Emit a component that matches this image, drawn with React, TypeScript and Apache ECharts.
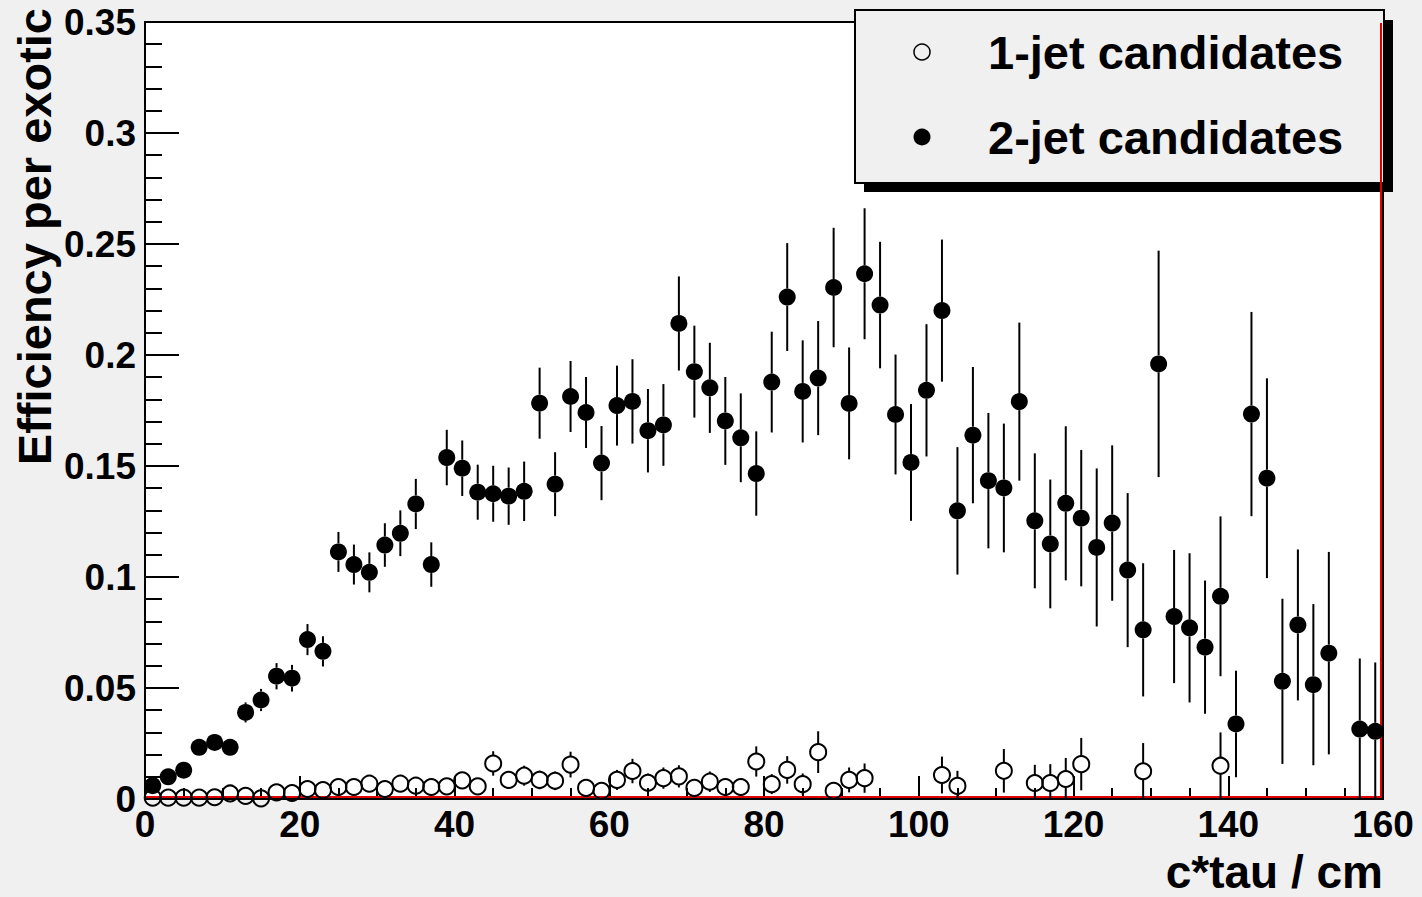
import React, { useEffect, useRef } from "react";
import * as echarts from "echarts";

// c*tau bin centres (cm)
const ctau = [
  1, 3, 5, 7, 9, 11, 13, 15, 17, 19, 21, 23, 25, 27, 29, 31, 33, 35, 37, 39,
  41, 43, 45, 47, 49, 51, 53, 55, 57, 59, 61, 63, 65, 67, 69, 71, 73, 75, 77, 79,
  81, 83, 85, 87, 89, 91, 93, 95, 97, 99, 101, 103, 105, 107, 109, 111, 113, 115, 117, 119,
  121, 123, 125, 127, 129, 131, 133, 135, 137, 139, 141, 143, 145, 147, 149, 151, 153, 155, 157, 159,
];

// 2-jet candidates efficiency and error
const twoJetEff = [
  0.006, 0.010, 0.013, 0.0233, 0.0255, 0.0233, 0.039, 0.0446, 0.0553, 0.0544,
  0.0718, 0.0665, 0.1113, 0.1056, 0.1021, 0.1144, 0.1197, 0.1329, 0.1056, 0.1538,
  0.149, 0.1382, 0.1375, 0.1364, 0.1386, 0.1783, 0.1418, 0.1813, 0.1741, 0.1513,
  0.1772, 0.1791, 0.1659, 0.1685, 0.2142, 0.1925, 0.1852, 0.1703, 0.1627, 0.1466,
  0.1878, 0.2261, 0.1836, 0.1896, 0.2304, 0.1782, 0.2366, 0.2225, 0.1732, 0.1516,
  0.1841, 0.22, 0.1298, 0.1639, 0.1434, 0.1401, 0.179, 0.1253, 0.1149, 0.1332,
  0.1265, 0.1133, 0.1243, 0.1031, 0.0762, 0.196, 0.0822, 0.0771, 0.0684, 0.0913,
  0.0338, 0.1734, 0.1445, 0.053, 0.0784, 0.0515, 0.0657, null, 0.0315, 0.0305,
];
const twoJetErr = [
  0.002, 0.0025, 0.003, 0.0035, 0.0037, 0.0037, 0.0045, 0.005, 0.0059, 0.006,
  0.007, 0.0068, 0.009, 0.009, 0.009, 0.0098, 0.0103, 0.0113, 0.01, 0.0125,
  0.0125, 0.0124, 0.0126, 0.0129, 0.0134, 0.016, 0.0144, 0.016, 0.016, 0.0167,
  0.018, 0.019, 0.0188, 0.0184, 0.0212, 0.0207, 0.0203, 0.0198, 0.02, 0.019,
  0.0227, 0.0243, 0.023, 0.0257, 0.0269, 0.0252, 0.0295, 0.0285, 0.027, 0.0263,
  0.0298, 0.032, 0.0287, 0.0307, 0.0305, 0.029, 0.0356, 0.0304, 0.029, 0.0347,
  0.0307, 0.0356, 0.035, 0.0347, 0.030, 0.051, 0.030, 0.0336, 0.030, 0.036,
  0.024, 0.046, 0.045, 0.0372, 0.034, 0.0363, 0.0456, null, 0.0318, 0.031,
];

// 1-jet candidates efficiency and error
const oneJetEff = [
  0.0006, 0.0006, 0.0006, 0.0006, 0.0008, 0.0025, 0.0014, 0.0003, 0.003, 0.0027,
  0.0045, 0.004, 0.0054, 0.0054, 0.0069, 0.0045, 0.0069, 0.006, 0.0054, 0.0057,
  0.0084, 0.0057, 0.016, 0.0086, 0.0105, 0.0086, 0.0082, 0.0155, 0.005, 0.0037,
  0.0086, 0.0126, 0.0073, 0.0094, 0.0102, 0.005, 0.0078, 0.0054, 0.0054, 0.0169,
  0.0067, 0.0131, 0.0067, 0.0211, 0.0037, 0.0086, 0.0094, null, null, null,
  null, 0.0108, 0.0059, null, null, 0.0127, null, 0.0072, 0.0072, 0.009,
  0.0157, null, null, null, 0.0125, null, null, null, null, 0.015,
  null, null, null, null, null, null, null, null, null, null,
];
const oneJetErr = [
  0.001, 0.001, 0.001, 0.001, 0.0012, 0.0015, 0.0013, 0.0006, 0.002, 0.002,
  0.0025, 0.0024, 0.0028, 0.0028, 0.0032, 0.0028, 0.0033, 0.0032, 0.003, 0.0032,
  0.0038, 0.0033, 0.0055, 0.004, 0.0045, 0.0042, 0.0042, 0.0058, 0.0035, 0.003,
  0.0045, 0.0055, 0.0042, 0.0048, 0.005, 0.0038, 0.0046, 0.004, 0.004, 0.0068,
  0.0045, 0.0062, 0.0048, 0.0094, 0.0035, 0.0056, 0.0066, null, null, null,
  null, 0.0083, 0.0068, null, null, 0.0098, null, 0.0082, 0.0085, 0.0095,
  0.0118, null, null, null, 0.0127, null, null, null, null, 0.015,
  null, null, null, null, null, null, null, null, null, null,
];

const xTickLabels = ["0", "20", "40", "60", "80", "100", "120", "140", "160"];
const yTickLabels = ["0", "0.05", "0.1", "0.15", "0.2", "0.25", "0.3", "0.35"];

const X_MIN = 0;
const X_MAX = 160;
const Y_MIN = 0;
const Y_MAX = 0.35;

const FONT = '"Liberation Sans", Arial, Helvetica, sans-serif';

function rows(eff: (number | null)[], err: (number | null)[]) {
  const out: number[][] = [];
  for (let i = 0; i < ctau.length; i++) {
    const v = eff[i];
    if (v === null || v === undefined) continue;
    out.push([ctau[i], v, (err[i] as number) || 0]);
  }
  return out;
}

function errorBars(radius: number) {
  return (params: any, api: any) => {
    const x = api.value(0);
    const v = api.value(1);
    const e = api.value(2);
    const c = api.coord([x, v]);
    const top = api.coord([x, v + e]);
    const bot = api.coord([x, Math.max(0, v - e)]);
    const children: any[] = [];
    const style = { stroke: "#000", lineWidth: 2 };
    if (c[1] - top[1] > radius) {
      children.push({
        type: "line",
        shape: { x1: c[0], y1: top[1], x2: c[0], y2: c[1] - radius },
        style,
      });
    }
    if (bot[1] - c[1] > radius) {
      children.push({
        type: "line",
        shape: { x1: c[0], y1: c[1] + radius, x2: c[0], y2: bot[1] },
        style,
      });
    }
    return { type: "group", children };
  };
}

export default function App() {
  const ref = useRef<HTMLDivElement>(null);

  useEffect(() => {
    document.body.style.margin = "0";
    const chart = echarts.init(ref.current!, null, { renderer: "svg" });
    const two = rows(twoJetEff, twoJetErr);
    const one = rows(oneJetEff, oneJetErr);

    chart.setOption({
      animation: false,
      backgroundColor: "#f0f0f0",
      grid: {
        left: 145,
        top: 22,
        width: 1238,
        height: 777,
        show: true,
        backgroundColor: "#ffffff",
        borderColor: "#000",
        borderWidth: 2,
      },
      xAxis: {
        type: "value",
        min: X_MIN,
        max: X_MAX,
        interval: 20,
        axisLine: { show: true, lineStyle: { color: "#000", width: 2 } },
        axisTick: { show: true, inside: true, length: 23, lineStyle: { color: "#000", width: 2 } },
        minorTick: { show: true, splitNumber: 4, length: 11, lineStyle: { color: "#000", width: 2 } },
        splitLine: { show: false },
        minorSplitLine: { show: false },
        axisLabel: {
          margin: 7,
          color: "#000",
          fontFamily: FONT,
          fontWeight: "bold",
          fontSize: 37,
          formatter: (v: number) => xTickLabels[Math.round(v / 20)] ?? String(v),
        },
      },
      yAxis: {
        type: "value",
        min: Y_MIN,
        max: Y_MAX,
        interval: 0.05,
        axisLine: { show: true, lineStyle: { color: "#000", width: 2 } },
        axisTick: { show: true, inside: true, length: 34, lineStyle: { color: "#000", width: 2 } },
        minorTick: { show: true, splitNumber: 5, length: 17, lineStyle: { color: "#000", width: 2 } },
        splitLine: { show: false },
        minorSplitLine: { show: false },
        axisLabel: {
          margin: 9,
          color: "#000",
          fontFamily: FONT,
          fontWeight: "bold",
          fontSize: 37,
          formatter: (v: number) => yTickLabels[Math.round(v / 0.05)] ?? String(v),
        },
      },
      series: [
        {
          type: "custom",
          name: "frame",
          silent: true,
          clip: false,
          z: 1,
          data: [[X_MAX, Y_MAX]],
          encode: { x: 0, y: 1 },
          renderItem: (params: any, api: any) => {
            const p0 = api.coord([X_MIN, Y_MIN]);
            const p1 = api.coord([X_MAX, Y_MIN]);
            const p2 = api.coord([X_MAX, Y_MAX]);
            return {
              type: "polyline",
              shape: {
                points: [
                  [p0[0] + 1, p0[1] - 2],
                  [p1[0] - 2, p1[1] - 2],
                  [p2[0] - 2, p2[1] + 1],
                ],
              },
              style: { stroke: "#e00000", lineWidth: 2, fill: "none" },
            };
          },
        },
        {
          type: "custom",
          name: "2-jet errors",
          silent: true,
          z: 2,
          data: two,
          encode: { x: 0, y: 1 },
          renderItem: errorBars(8.5),
        },
        {
          type: "custom",
          name: "1-jet errors",
          silent: true,
          z: 2,
          data: one,
          encode: { x: 0, y: 1 },
          renderItem: errorBars(8),
        },
        {
          type: "scatter",
          name: "2-jet candidates",
          z: 3,
          data: two.map((r) => [r[0], r[1]]),
          symbol: "circle",
          symbolSize: 17,
          itemStyle: { color: "#000", opacity: 1 },
        },
        {
          type: "scatter",
          name: "1-jet candidates",
          z: 3,
          clip: false,
          data: one.map((r) => [r[0], r[1]]),
          symbol: "circle",
          symbolSize: 16,
          itemStyle: { color: "rgba(0,0,0,0)", borderColor: "#000", borderWidth: 2, opacity: 1 },
        },
      ],
      graphic: [
        {
          type: "text",
          x: 34,
          y: 8,
          rotation: Math.PI / 2,
          style: {
            text: "Efficiency per exotic",
            font: `bold 47px ${FONT}`,
            fill: "#000",
            align: "right",
            verticalAlign: "middle",
          },
        },
        {
          type: "text",
          x: 1383,
          y: 872,
          style: {
            text: "c*tau / cm",
            font: `bold 46px ${FONT}`,
            lineHeight: 40,
            fill: "#000",
            align: "right",
            verticalAlign: "middle",
          },
        },
        {
          type: "group",
          z: 100,
          children: [
            { type: "rect", shape: { x: 864, y: 20, width: 529, height: 172 }, style: { fill: "#000" } },
            {
              type: "rect",
              shape: { x: 855, y: 10, width: 529, height: 173 },
              style: { fill: "#f0f0f0", stroke: "#000", lineWidth: 2 },
            },
            {
              type: "circle",
              shape: { cx: 922, cy: 52, r: 8 },
              style: { fill: "none", stroke: "#000", lineWidth: 1.5 },
            },
            { type: "circle", shape: { cx: 922, cy: 137, r: 8.5 }, style: { fill: "#000" } },
            {
              type: "text",
              x: 988,
              y: 52.5,
              style: {
                text: "1-jet candidates",
                font: `bold 47px ${FONT}`,
                fill: "#000",
                align: "left",
                verticalAlign: "middle",
              },
            },
            {
              type: "text",
              x: 988,
              y: 137.5,
              style: {
                text: "2-jet candidates",
                font: `bold 47px ${FONT}`,
                fill: "#000",
                align: "left",
                verticalAlign: "middle",
              },
            },
          ],
        },
      ],
    });
    return () => chart.dispose();
  }, []);

  return (
    <div
      ref={ref}
      style={{ position: "absolute", left: 0, top: 0, width: 1422, height: 897 }}
    />
  );
}
